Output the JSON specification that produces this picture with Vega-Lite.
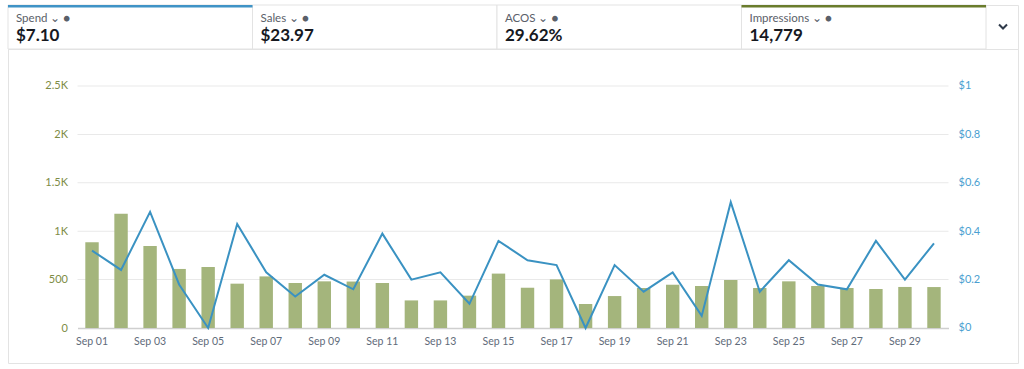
{
  "$schema": "https://vega.github.io/schema/vega-lite/v6.json",
  "background": "white",
  "padding": {"left": 7, "top": 4, "right": 7, "bottom": 0},
  "bounds": "flush",
  "spacing": 0,
  "datasets": {
    "days": [
      {"day": "Sep 01", "impressions": 885, "cpc": 0.32},
      {"day": "Sep 02", "impressions": 1180, "cpc": 0.24},
      {"day": "Sep 03", "impressions": 847, "cpc": 0.48},
      {"day": "Sep 04", "impressions": 610, "cpc": 0.18},
      {"day": "Sep 05", "impressions": 630, "cpc": 0.0},
      {"day": "Sep 06", "impressions": 458, "cpc": 0.43},
      {"day": "Sep 07", "impressions": 533, "cpc": 0.23},
      {"day": "Sep 08", "impressions": 465, "cpc": 0.13},
      {"day": "Sep 09", "impressions": 482, "cpc": 0.22},
      {"day": "Sep 10", "impressions": 480, "cpc": 0.16},
      {"day": "Sep 11", "impressions": 465, "cpc": 0.39},
      {"day": "Sep 12", "impressions": 285, "cpc": 0.2},
      {"day": "Sep 13", "impressions": 285, "cpc": 0.23},
      {"day": "Sep 14", "impressions": 334, "cpc": 0.1},
      {"day": "Sep 15", "impressions": 562, "cpc": 0.36},
      {"day": "Sep 16", "impressions": 416, "cpc": 0.28},
      {"day": "Sep 17", "impressions": 502, "cpc": 0.26},
      {"day": "Sep 18", "impressions": 248, "cpc": 0.0},
      {"day": "Sep 19", "impressions": 330, "cpc": 0.26},
      {"day": "Sep 20", "impressions": 413, "cpc": 0.15},
      {"day": "Sep 21", "impressions": 447, "cpc": 0.23},
      {"day": "Sep 22", "impressions": 434, "cpc": 0.05},
      {"day": "Sep 23", "impressions": 496, "cpc": 0.52},
      {"day": "Sep 24", "impressions": 413, "cpc": 0.15},
      {"day": "Sep 25", "impressions": 482, "cpc": 0.28},
      {"day": "Sep 26", "impressions": 434, "cpc": 0.18},
      {"day": "Sep 27", "impressions": 413, "cpc": 0.16},
      {"day": "Sep 28", "impressions": 403, "cpc": 0.36},
      {"day": "Sep 29", "impressions": 424, "cpc": 0.2},
      {"day": "Sep 30", "impressions": 423, "cpc": 0.35}
    ],
    "cards": [
      {"card": "Spend", "value": "$7.10"},
      {"card": "Sales", "value": "$23.97"},
      {"card": "ACOS", "value": "29.62%"},
      {"card": "Impressions", "value": "14,779"}
    ],
    "grid": [{"v": 500}, {"v": 1000}, {"v": 1500}, {"v": 2000}, {"v": 2500}]
  },
  "vconcat": [
    {
      "width": 1010,
      "height": 44,
      "view": {"stroke": "#e3e3e3"},
      "data": {"name": "cards"},
      "encoding": {
        "x": {
          "field": "card",
          "type": "nominal",
          "scale": {"type": "band", "domain": ["Spend", "Sales", "ACOS", "Impressions"], "paddingInner": 0, "paddingOuter": 0.0654, "align": 0},
          "axis": null
        }
      },
      "layer": [
        {"mark": {"type": "rect", "fill": "white", "stroke": "#e3e3e3", "strokeWidth": 1}},
        {
          "transform": [{"filter": "datum.card === 'Spend' || datum.card === 'Impressions'"}],
          "mark": {"type": "rect"},
          "encoding": {
            "y": {"value": 0},
            "y2": {"value": 2.5},
            "color": {"field": "card", "type": "nominal", "scale": {"domain": ["Spend", "Impressions"], "range": ["#3f93c6", "#6a7c2c"]}, "legend": null}
          }
        },
        {
          "transform": [{"calculate": "datum.card + '  \u2304  \u25cf'", "as": "full"}],
          "mark": {"type": "text", "align": "left", "baseline": "alphabetic", "dx": 8, "dy": -5, "fontSize": 11.5, "font": "Lato", "color": "#5a6069"},
          "encoding": {"x": {"field": "card", "type": "nominal", "bandPosition": 0}, "text": {"field": "full"}}
        },
        {
          "mark": {"type": "text", "align": "left", "baseline": "alphabetic", "dx": 8, "dy": 14, "fontSize": 17, "fontWeight": "bold", "font": "Lato", "color": "#16191f"},
          "encoding": {"x": {"field": "card", "type": "nominal", "bandPosition": 0}, "text": {"field": "value"}}
        },
        {
          "transform": [{"filter": "datum.card === 'Impressions'"}],
          "mark": {"type": "point", "shape": "M-1,-0.5L0,0.5L1,-0.5", "filled": false, "stroke": "#2f3a4a", "strokeWidth": 2, "size": 64, "opacity": 1, "xOffset": 17, "yOffset": -0.5},
          "encoding": {"x": {"field": "card", "type": "nominal", "bandPosition": 1}}
        }
      ]
    },
    {
      "width": 1010,
      "height": 314,
      "view": {"stroke": "#e3e3e3"},
      "encoding": {
        "x": {
          "field": "day",
          "type": "nominal",
          "scale": {
            "type": "band",
            "domain": ["Sep 01", "Sep 02", "Sep 03", "Sep 04", "Sep 05", "Sep 06", "Sep 07", "Sep 08", "Sep 09", "Sep 10", "Sep 11", "Sep 12", "Sep 13", "Sep 14", "Sep 15", "Sep 16", "Sep 17", "Sep 18", "Sep 19", "Sep 20", "Sep 21", "Sep 22", "Sep 23", "Sep 24", "Sep 25", "Sep 26", "Sep 27", "Sep 28", "Sep 29", "Sep 30"],
            "range": [69.5, 940.5],
            "paddingInner": 0.538,
            "paddingOuter": 0.269
          },
          "axis": {
            "orient": "bottom",
            "offset": -35,
            "domain": true,
            "domainColor": "#cfcfcf",
            "domainWidth": 1.5,
            "ticks": false,
            "grid": false,
            "labelAngle": 0,
            "bandPosition": 0.5,
            "values": ["Sep 01", "Sep 03", "Sep 05", "Sep 07", "Sep 09", "Sep 11", "Sep 13", "Sep 15", "Sep 17", "Sep 19", "Sep 21", "Sep 23", "Sep 25", "Sep 27", "Sep 29"],
            "labelPadding": 8,
            "labelFontSize": 10.5,
            "labelColor": "#5f6b7a",
            "title": null
          }
        }
      },
      "layer": [
        {
          "layer": [
            {
              "data": {"name": "grid"},
              "mark": {"type": "tick", "orient": "horizontal", "color": "#e9e9e9", "opacity": 1, "thickness": 1, "size": 871},
              "encoding": {
                "x": null,
                "y": {"field": "v", "type": "quantitative", "scale": {"domain": [-361.57, 2882.23], "nice": false, "zero": false}}
              }
            },
            {
              "data": {"name": "days"},
              "mark": {"type": "bar", "color": "#a4b57c"},
              "encoding": {
                "y": {
                  "field": "impressions",
                  "type": "quantitative",
                  "scale": {"domain": [-361.57, 2882.23], "nice": false, "zero": false},
                  "axis": {
                    "orient": "left",
                    "offset": -69.5,
                    "values": [0, 500, 1000, 1500, 2000, 2500],
                    "labelExpr": "datum.value >= 1000 ? format(datum.value / 1000, '~g') + 'K' : format(datum.value, '~g')",
                    "domain": false,
                    "ticks": false,
                    "grid": false,
                    "labelPadding": 10,
                    "labelColor": "#7e8c45",
                    "title": null
                  }
                },
                "y2": {"datum": 0}
              }
            }
          ]
        },
        {
          "data": {"name": "days"},
          "mark": {"type": "line", "color": "#3a92c2", "strokeWidth": 2},
          "encoding": {
            "y": {
              "field": "cpc",
              "type": "quantitative",
              "scale": {"domain": [-0.14463, 1.15289], "nice": false, "zero": false},
              "axis": {
                "orient": "right",
                "offset": -69.5,
                "values": [0, 0.2, 0.4, 0.6, 0.8, 1],
                "labelExpr": "'$' + format(datum.value, '~g')",
                "domain": false,
                "ticks": false,
                "grid": false,
                "labelPadding": 9.5,
                "labelColor": "#4b9fd1",
                "title": null
              }
            }
          }
        }
      ],
      "resolve": {"scale": {"y": "independent"}}
    }
  ],
  "config": {
    "font": "Lato",
    "axis": {"labelFont": "Lato", "labelFontSize": 11},
    "text": {"font": "Lato"},
    "view": {"stroke": "#e3e3e3"}
  }
}
